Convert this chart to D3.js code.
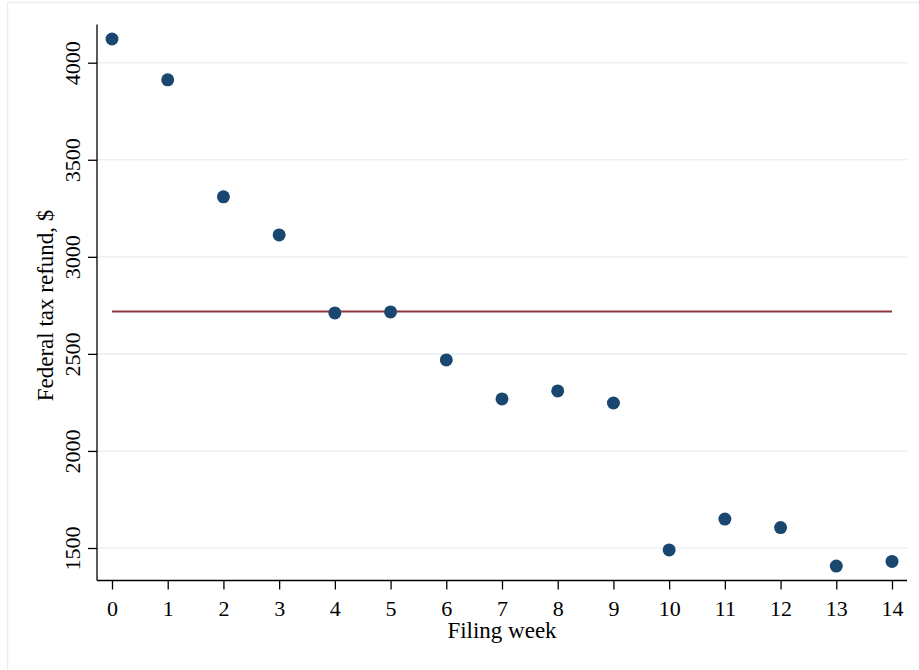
<!DOCTYPE html>
<html>
<head>
<meta charset="utf-8">
<script src="https://cdn.jsdelivr.net/npm/d3@7"></script>
<style>
  html, body { margin: 0; padding: 0; background: #ffffff; }
  svg { display: block; }
  text { font-family: "Liberation Serif", "Times New Roman", serif; fill: #000; }
</style>
</head>
<body>
<svg id="chart" width="919" height="670"></svg>
<script>
// ---- data ----
const weeks = [0, 1, 2, 3, 4, 5, 6, 7, 8, 9, 10, 11, 12, 13, 14];
const refunds = [4122, 3912, 3309, 3113, 2711, 2716, 2469, 2268, 2309, 2247, 1490, 1649, 1605, 1407, 1431];
const meanRefund = 2718;
const xTicks = [0, 1, 2, 3, 4, 5, 6, 7, 8, 9, 10, 11, 12, 13, 14];
const yTicks = [1500, 2000, 2500, 3000, 3500, 4000];
const xTitle = "Filing week";
const yTitle = "Federal tax refund, $";

// ---- layout ----
const svg = d3.select("#chart");
const pL = 97, pR = 907, pT = 24.5, pB = 580.5;
const tickFont = 22, titleFont = 23;

// outer graph region frame (Stata style)
svg.append("rect")
  .attr("x", 7.5).attr("y", 2.5)
  .attr("width", 940).attr("height", 700)
  .attr("fill", "#ffffff")
  .attr("stroke", "#e6eef1").attr("stroke-width", 1.5);

const x = d3.scaleLinear().domain([0, 14]).range([112, 892]);
const y = d3.scaleLinear().domain([1500, 4000]).range([548, 62.7]);

// gridlines
svg.append("g").selectAll("line").data(yTicks).join("line")
  .attr("x1", pL).attr("x2", pR)
  .attr("y1", d => y(d)).attr("y2", d => y(d))
  .attr("stroke", "#eaf1f3").attr("stroke-width", 1.6);

// y axis
const yAxis = svg.append("g")
  .attr("transform", `translate(${pL},0)`)
  .call(d3.axisLeft(y).tickValues(yTicks).tickSize(9).tickSizeOuter(0).tickFormat(d3.format("d")));
yAxis.select(".domain").remove();
yAxis.selectAll(".tick line").attr("stroke", "#000").attr("stroke-width", 1.3);
yAxis.selectAll(".tick text")
  .attr("x", null).attr("dy", null)
  .attr("transform", "translate(-17,0) rotate(-90)")
  .attr("text-anchor", "middle")
  .attr("font-size", tickFont)
  .attr("font-family", "Liberation Serif");
svg.append("line")
  .attr("x1", pL).attr("x2", pL).attr("y1", pT).attr("y2", pB)
  .attr("stroke", "#000").attr("stroke-width", 1.3);

// x axis
const xAxis = svg.append("g")
  .attr("transform", `translate(0,${pB})`)
  .call(d3.axisBottom(x).tickValues(xTicks).tickSize(9).tickSizeOuter(0).tickFormat(d3.format("d")));
xAxis.select(".domain").remove();
xAxis.selectAll(".tick line").attr("stroke", "#000").attr("stroke-width", 1.3);
xAxis.selectAll(".tick text")
  .attr("y", 35.5).attr("dy", null)
  .attr("font-size", tickFont)
  .attr("font-family", "Liberation Serif");
svg.append("line")
  .attr("x1", pL).attr("x2", pR).attr("y1", pB).attr("y2", pB)
  .attr("stroke", "#000").attr("stroke-width", 1.3);

// mean line
svg.append("line")
  .attr("x1", x(weeks[0])).attr("x2", x(weeks[weeks.length - 1]))
  .attr("y1", y(meanRefund)).attr("y2", y(meanRefund))
  .attr("stroke", "#90353b").attr("stroke-width", 2);

// points
svg.append("g").selectAll("circle").data(weeks).join("circle")
  .attr("cx", d => x(d))
  .attr("cy", (d, i) => y(refunds[i]))
  .attr("r", 6.5)
  .attr("fill", "#1a476f");

// axis titles
svg.append("text")
  .attr("x", (pL + pR) / 2).attr("y", 638)
  .attr("text-anchor", "middle")
  .attr("font-size", titleFont)
  .text(xTitle);
svg.append("text")
  .attr("transform", `translate(52.5,305.5) rotate(-90)`)
  .attr("text-anchor", "middle")
  .attr("font-size", titleFont)
  .text(yTitle);
</script>
</body>
</html>
